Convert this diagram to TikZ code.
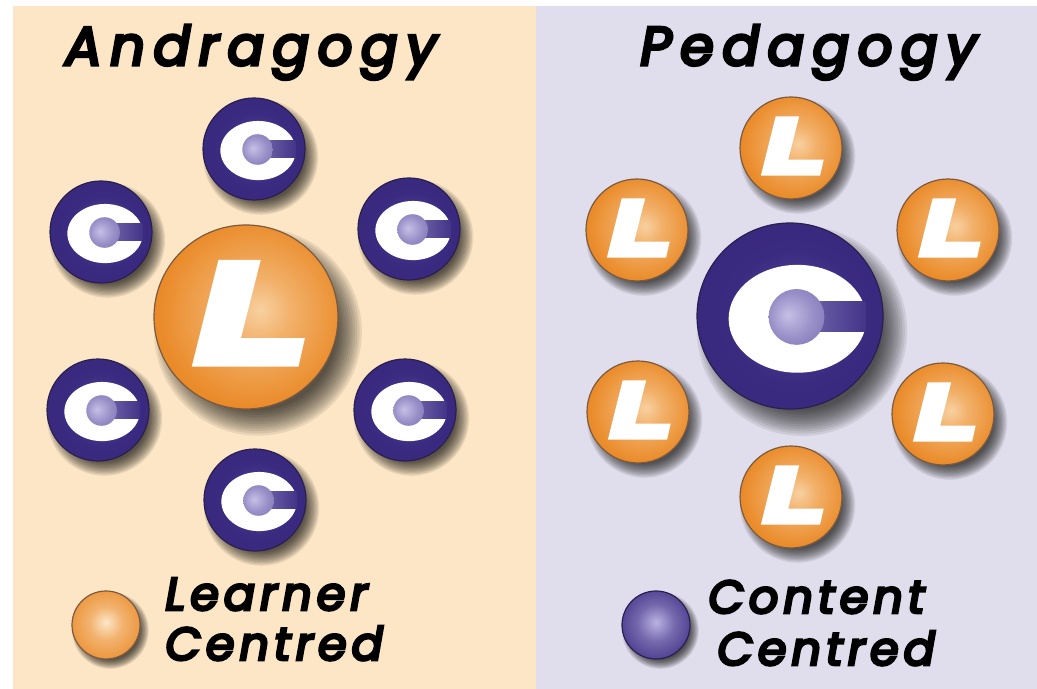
\documentclass[tikz,border=0pt]{standalone}
\usepackage{fontspec}
\newfontfamily\gfont[FakeBold=6, LetterSpace=16]{Poppins}
\newfontfamily\kfont[FakeBold=6, LetterSpace=11]{Poppins}
\usetikzlibrary{calc}

\definecolor{beige}{HTML}{FCE6C5}
\definecolor{lav}{HTML}{E0DEEC}
\definecolor{orEdge}{HTML}{DD760A}
\definecolor{orMid}{HTML}{EA8A28}
\definecolor{orHi}{HTML}{F8D0A0}
\definecolor{puEdge}{HTML}{26145F}
\definecolor{puMid}{HTML}{3A2A80}
\definecolor{puHi}{HTML}{5E52A0}
\definecolor{cinEdge}{HTML}{6A5EA8}
\definecolor{cinHi}{HTML}{C6C0E6}
\definecolor{legOHi}{HTML}{FCE6C8}
\definecolor{legPHi}{HTML}{BAB2E2}
\definecolor{rimO}{HTML}{7A5A40}
\definecolor{rimP}{HTML}{2A2050}

\pgfdeclareradialshading{orball}{\pgfpoint{4bp}{2bp}}{color(0bp)=(orHi); color(9bp)=(orHi!55!orMid); color(26bp)=(orMid); color(50bp)=(orEdge)}
\pgfdeclareradialshading{puball}{\pgfpoint{2bp}{0bp}}{color(0bp)=(puHi); color(18bp)=(puMid); color(42bp)=(puMid!85!puEdge); color(50bp)=(puEdge)}
\pgfdeclareradialshading{cball}{\pgfpoint{-8bp}{2bp}}{color(0bp)=(cinHi); color(20bp)=(cinHi!50!cinEdge); color(50bp)=(cinEdge)}
\pgfdeclareradialshading{legO}{\pgfpoint{0bp}{2bp}}{color(0bp)=(legOHi); color(12bp)=(legOHi!45!orMid); color(32bp)=(orMid); color(50bp)=(orEdge)}
\pgfdeclareradialshading{legP}{\pgfpoint{0bp}{2bp}}{color(0bp)=(legPHi); color(14bp)=(legPHi!45!puMid); color(34bp)=(puMid); color(50bp)=(puEdge)}

\tikzset{
  ballbase/.style={circle, inner sep=0pt, outer sep=0pt, minimum size=#1pt, line width=0.6pt},
  Lball/.style={ballbase=#1, shading=orball, draw=rimO},
  Cball/.style={ballbase=#1, shading=puball, draw=rimP},
  title/.style={font=\gfont\itshape\fontsize{27}{30}\selectfont, inner sep=0pt, anchor=base west},
  legtext/.style={font=\kfont\itshape\fontsize{23}{26}\selectfont, inner sep=0pt, anchor=base west},
}

% soft shadow under a ball: #1 = centre, #2 = radius (px)
\newcommand\softshadow[2]{%
  \begin{scope}[shift={(#1)}]
    \foreach \k in {0,...,11}{%
      \fill[black, opacity=0.08] ({0.13*#2},{0.16*#2}) circle [radius={(1.13-0.025*\k)*#2}];}
  \end{scope}}
% white italic L on a ball: #1 = node, #2 = radius (px)
\newcommand\Lmark[2]{%
  \begin{scope}[shift={(#1.center)}, x=1pt, y=1pt, scale={#2/2}]
    \fill[white] (-0.30,0.62) -- (0.16,0.62) -- (-0.055,-0.23) -- (0.64,-0.23)
      -- (0.57,-0.54) -- (-0.59,-0.54) -- cycle;
  \end{scope}}
% white C with inner ball: #1 = node, #2 = radius (px)
\newcommand\Cmark[2]{%
  \begin{scope}[shift={(#1.center)}, x=1pt, y=1pt, scale={#2/2}]
    \begin{scope}
      \clip (-1,-1) rectangle (0.80,1);
      \fill[white] (0.08,-0.03) ellipse [x radius=0.74, y radius=0.58];
    \end{scope}
    \shade[left color=cinEdge!90!white, right color=puMid!80!cinEdge] (0.05,-0.17) rectangle (0.81,0.16);
    \shade[shading=cball] (0.07,-0.01) circle [radius=0.30];
  \end{scope}}

\begin{document}
\begin{tikzpicture}[x=0.5pt,y=-0.5pt]
\useasboundingbox (0,0) rectangle (1037,689);
\fill[white] (0,0) rectangle (1037,689);
\fill[beige] (13,6) rectangle (536,689);
\fill[lav] (536,6) rectangle (1037,689);

% titles
\node[title] (tA) at (65,65) {Andragogy};
\node[title] (tP) at (640,65) {Pedagogy};

% shadows
\foreach \p in {{254,149},{101,232},{409,229},{98,410},{405,410},{255,500},
                {791,148},{637,230},{948,230},{638,412},{943,414},{791,497}}
  {\softshadow{\p}{51}}
\softshadow{246,317}{92}
\softshadow{790,316}{93}
\softshadow{106,625}{34}
\softshadow{656,625}{34}

% Andragogy: content balls around the learner
\node[Cball=51] (c1) at (254,149) {}; \Cmark{c1}{51}
\node[Cball=51] (c2) at (101,232) {}; \Cmark{c2}{51}
\node[Cball=51] (c3) at (409,229) {}; \Cmark{c3}{51}
\node[Cball=51] (c4) at (98,410) {};  \Cmark{c4}{51}
\node[Cball=51] (c5) at (405,410) {}; \Cmark{c5}{51}
\node[Cball=51] (c6) at (255,500) {}; \Cmark{c6}{51}
\node[Lball=92] (L0) at (246,317) {}; \Lmark{L0}{92}

% Pedagogy: learner balls around the content
\node[Lball=51] (l1) at (791,148) {}; \Lmark{l1}{51}
\node[Lball=51] (l2) at (637,230) {}; \Lmark{l2}{51}
\node[Lball=51] (l3) at (948,230) {}; \Lmark{l3}{51}
\node[Lball=51] (l4) at (638,412) {}; \Lmark{l4}{51}
\node[Lball=51] (l5) at (943,414) {}; \Lmark{l5}{51}
\node[Lball=51] (l6) at (791,497) {}; \Lmark{l6}{51}
\node[Cball=93] (C0) at (790,316) {}; \Cmark{C0}{93}

% legends
\node[ballbase=34, shading=legO, draw=rimO] (kO) at (106,625) {};
\node[legtext] (kO1) at (165,610) {Learner};
\node[legtext] (kO2) at (165,660) {Centred};
\node[ballbase=34, shading=legP, draw=rimP] (kP) at (656,625) {};
\node[legtext] (kP1) at (708,613) {Content};
\node[legtext] (kP2) at (717,665) {Centred};
\end{tikzpicture}
\end{document}
